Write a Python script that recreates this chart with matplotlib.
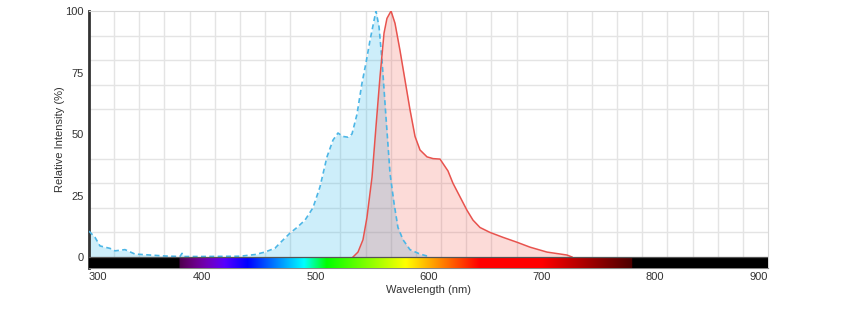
import matplotlib
matplotlib.use('Agg')
import matplotlib.pyplot as plt
import numpy as np

plt.rcParams['font.family'] = ['Liberation Sans', 'DejaVu Sans']

# excitation spectrum (dashed blue)
ex_nm = [300, 305.3, 309.7, 318.6, 323, 331.8, 340.6, 353.9, 367.2, 380.4, 382.2, 384,
         398, 433.4, 446.7, 455.5, 464.4, 468.8, 477.6, 483.8, 490.9, 497.9, 504.1,
         510.3, 515.6, 520, 524.4, 528.9, 532.4, 536.8, 541.2, 544.8, 548.3, 551.8,
         553.6, 556.3, 558.9, 562.4, 566, 569.5, 573, 577.5, 583.6, 592.5, 599.5]
ex_val = [10.5, 8, 4.5, 3.5, 2.5, 3, 1.2, 0.8, 0.4, 0.2, 1.5, 0.2,
          0.2, 0.3, 1, 2, 3.6, 5.7, 9.7, 12, 15, 20, 28.5,
          40.7, 47.5, 50.4, 49, 48.7, 50, 58, 70.6, 79, 88, 96,
          100, 93.5, 80, 57, 34, 22, 12, 7, 3, 1.2, 0.3]

# emission spectrum (solid red)
em_nm = [533.3, 537.7, 542.1, 545.6, 550.1, 553.6, 557.1, 560.7, 563.3, 566.9, 570.4,
         574.8, 579.2, 583.6, 588.1, 592.5, 598.7, 604, 610.2, 612.8, 617.2, 621.6,
         627.8, 634, 639.3, 645.5, 654.3, 665.8, 678.2, 689.7, 704.7, 722.4, 726.8]
em_val = [0, 2, 7, 16, 32.5, 53, 73, 91, 97, 100, 95,
          84, 72, 60, 49, 43.5, 40.7, 40, 39.8, 38, 35, 30,
          24.5, 19, 15, 12, 10, 8, 6, 4, 2, 0.8, 0]

x_ticks = [300, 400, 500, 600, 700, 800, 900]
y_ticks = [0, 25, 50, 75, 100]


def wavelength_to_rgb(wl):
    """Rough visible spectrum colour for a wavelength in nm (black outside 380-780)."""
    if wl < 380 or wl > 780:
        return (0, 0, 0)
    if wl < 440:
        r, g, b = -(wl - 440) / 60, 0.0, 1.0
    elif wl < 490:
        r, g, b = 0.0, (wl - 440) / 50, 1.0
    elif wl < 510:
        r, g, b = 0.0, 1.0, -(wl - 510) / 20
    elif wl < 580:
        r, g, b = (wl - 510) / 70, 1.0, 0.0
    elif wl < 645:
        r, g, b = 1.0, -(wl - 645) / 65, 0.0
    else:
        r, g, b = 1.0, 0.0, 0.0
    if wl < 420:
        f = 0.3 + 0.7 * (wl - 380) / 40
    elif wl > 700:
        f = 0.3 + 0.7 * (780 - wl) / 80
    else:
        f = 1.0
    return (r * f, g * f, b * f)


fig = plt.figure(figsize=(8.62, 3.34), dpi=100)
ax = fig.add_axes([89 / 862, 1 - 268 / 334, 679 / 862, 257 / 334])

band_bottom = -4.47
ax.set_xlim(300, 900)
ax.set_ylim(band_bottom, 100)

# grid
ax.set_xticks(np.linspace(300, 900, 28), minor=True)
ax.set_yticks(np.arange(0, 101, 10), minor=True)
ax.grid(which='minor', color='#e4e4e4', lw=1)
ax.grid(which='major', visible=False)
ax.set_axisbelow(True)

# spectra
ax.fill_between(ex_nm, ex_val, 0, color=(0.16, 0.72, 0.92), alpha=0.23, lw=0, zorder=2)
ax.fill_between(em_nm, em_val, 0, color=(0.95, 0.3, 0.25), alpha=0.2, lw=0, zorder=3)
ax.plot(ex_nm, ex_val, color='#4cb6e6', lw=1.2, ls=(0, (3, 2)), zorder=4)
ax.plot(em_nm, em_val, color='#e8534e', lw=1.1, zorder=4)

# colour band under the zero line
wl = np.linspace(300, 900, 1200)
band = np.array([[wavelength_to_rgb(w) for w in wl]])
ax.imshow(band, extent=(300, 900, band_bottom, 0), aspect='auto', zorder=5)
ax.axhline(0, color='#555555', lw=0.9, zorder=6)

ax.set_xticks(x_ticks)
ax.set_xticklabels([str(t) for t in x_ticks])
ax.set_yticks(y_ticks)
ax.set_yticklabels([str(t) for t in y_ticks])
ax.tick_params(axis='both', which='both', length=0, labelsize=8, colors='#333333')
ax.tick_params(axis='x', pad=3)
ax.tick_params(axis='y', pad=4)
labels = ax.get_xticklabels()
labels[0].set_ha('left')
labels[-1].set_ha('right')

ax.set_xlabel('Wavelength (nm)', fontsize=8, color='#333333', labelpad=2)
ax.set_ylabel('Relative Intensity (%)', fontsize=8, color='#333333', labelpad=0)

for side in ['top', 'right']:
    ax.spines[side].set_color('#d8d8d8')
ax.spines['bottom'].set_color('#888888')
ax.spines['left'].set_color('#333333')
ax.spines['left'].set_linewidth(2)

plt.savefig('out.png', dpi=100)
